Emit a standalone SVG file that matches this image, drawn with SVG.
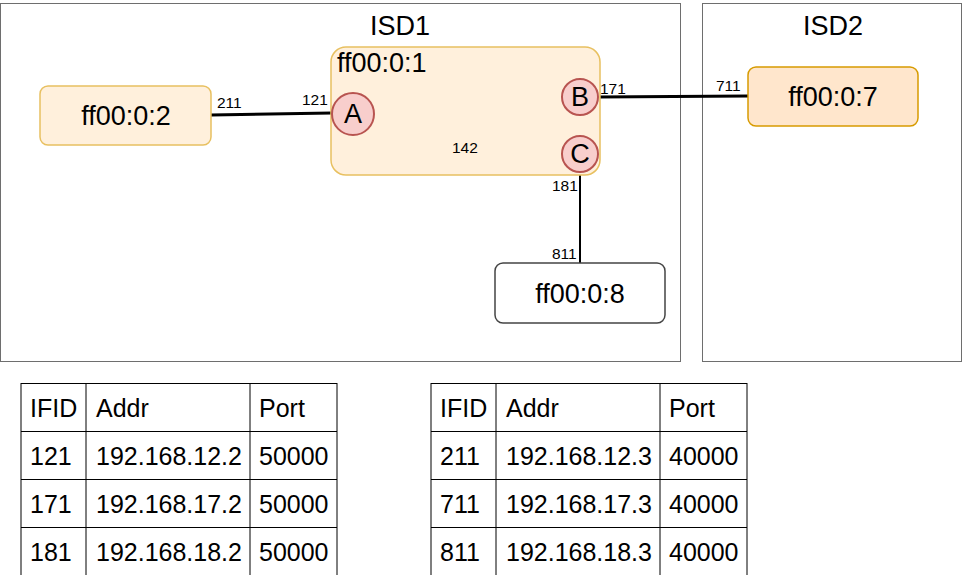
<svg xmlns="http://www.w3.org/2000/svg" width="963" height="575" viewBox="0 0 963 575">
<style>
text{font-family:"Liberation Sans",Arial,sans-serif;fill:#000}
.isd{fill:#fff;stroke:#6e6e6e;stroke-width:1}
.big{font-size:27px}
.lbl{font-size:15.5px}
.tb{font-size:25px}
.as{fill:#fff0dc;stroke:#e8c060;stroke-width:1.5}
.ifc{fill:#f8cecc;stroke:#b85450;stroke-width:2}
.cell{fill:#fff;stroke:#000;stroke-width:1}
</style>
<g id="isd1"><rect class="isd" x="0.5" y="3.5" width="680" height="358"/><text class="big" x="400" y="35" text-anchor="middle">ISD1</text></g>
<g id="isd2"><rect class="isd" x="702.5" y="3.5" width="259" height="358"/><text class="big" x="833" y="35" text-anchor="middle">ISD2</text></g>
<g id="connectors" stroke="#000" fill="none">
<line x1="211" y1="115" x2="332" y2="113" stroke-width="3"/>
<line x1="598" y1="97" x2="748" y2="96" stroke-width="3"/>
<line x1="580" y1="172" x2="580" y2="263" stroke-width="2"/>
</g>
<g id="ff00-0-2"><rect class="as" x="40" y="86" width="171" height="59" rx="8"/><text class="big" x="126" y="125" text-anchor="middle">ff00:0:2</text></g>
<g id="ff00-0-1"><rect class="as" x="331" y="47" width="269" height="128" rx="15"/><text class="big" x="337" y="72">ff00:0:1</text></g>
<g id="ifA"><circle class="ifc" cx="353" cy="114" r="21"/><text class="big" x="353" y="123" text-anchor="middle">A</text></g>
<g id="ifB"><circle class="ifc" cx="580" cy="97" r="18"/><text class="big" x="580" y="106" text-anchor="middle">B</text></g>
<g id="ifC"><circle class="ifc" cx="580" cy="154" r="18"/><text class="big" x="580" y="163" text-anchor="middle">C</text></g>
<g id="ff00-0-7"><rect x="748" y="67" width="170" height="59" rx="8" fill="#ffe6cc" stroke="#d79b00" stroke-width="1.5"/><text class="big" x="833" y="106" text-anchor="middle">ff00:0:7</text></g>
<g id="ff00-0-8"><rect x="495" y="263" width="170" height="60" rx="8" fill="#fff" stroke="#444" stroke-width="1.5"/><text class="big" x="580" y="303" text-anchor="middle">ff00:0:8</text></g>
<g id="labels">
<text class="lbl" x="217" y="108">211</text>
<text class="lbl" x="302" y="105">121</text>
<text class="lbl" x="600" y="94">171</text>
<text class="lbl" x="716" y="91">711</text>
<text class="lbl" x="452" y="153">142</text>
<text class="lbl" x="552" y="191">181</text>
<text class="lbl" x="552" y="259">811</text>
</g>
<g id="table1">
<rect class="cell" x="21" y="383.5" width="316" height="200"/>
<line class="cell" x1="86" y1="383" x2="86" y2="575"/>
<line class="cell" x1="250" y1="383" x2="250" y2="575"/>
<line class="cell" x1="21" y1="431.5" x2="337" y2="431.5"/>
<line class="cell" x1="21" y1="479.5" x2="337" y2="479.5"/>
<line class="cell" x1="21" y1="527.5" x2="337" y2="527.5"/>
<text class="tb" x="30" y="417">IFID</text><text class="tb" x="96" y="417">Addr</text><text class="tb" x="259" y="417">Port</text>
<text class="tb" x="30" y="465">121</text><text class="tb" x="96" y="465">192.168.12.2</text><text class="tb" x="259" y="465">50000</text>
<text class="tb" x="30" y="513">171</text><text class="tb" x="96" y="513">192.168.17.2</text><text class="tb" x="259" y="513">50000</text>
<text class="tb" x="30" y="561">181</text><text class="tb" x="96" y="561">192.168.18.2</text><text class="tb" x="259" y="561">50000</text>
</g>
<g id="table2">
<rect class="cell" x="431" y="383.5" width="316" height="200"/>
<line class="cell" x1="496" y1="383" x2="496" y2="575"/>
<line class="cell" x1="660" y1="383" x2="660" y2="575"/>
<line class="cell" x1="431" y1="431.5" x2="747" y2="431.5"/>
<line class="cell" x1="431" y1="479.5" x2="747" y2="479.5"/>
<line class="cell" x1="431" y1="527.5" x2="747" y2="527.5"/>
<text class="tb" x="440" y="417">IFID</text><text class="tb" x="506" y="417">Addr</text><text class="tb" x="669" y="417">Port</text>
<text class="tb" x="440" y="465">211</text><text class="tb" x="506" y="465">192.168.12.3</text><text class="tb" x="669" y="465">40000</text>
<text class="tb" x="440" y="513">711</text><text class="tb" x="506" y="513">192.168.17.3</text><text class="tb" x="669" y="513">40000</text>
<text class="tb" x="440" y="561">811</text><text class="tb" x="506" y="561">192.168.18.3</text><text class="tb" x="669" y="561">40000</text>
</g>
</svg>
